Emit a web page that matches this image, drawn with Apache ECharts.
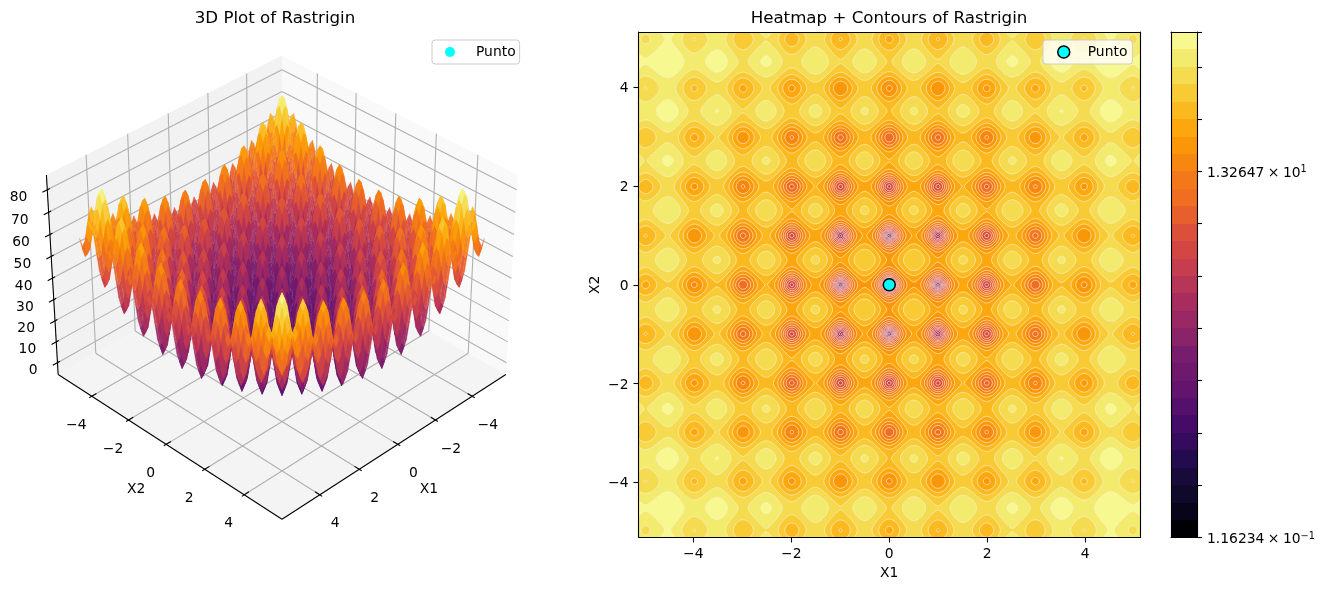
<!DOCTYPE html>
<html><head><meta charset="utf-8">
<style>html,body{margin:0;padding:0;background:#fff}#c{width:1323px;height:590px}</style>
<script src="https://cdn.jsdelivr.net/npm/echarts@6/dist/echarts.min.js"></script>
</head><body><div id="c"></div>
<script>
// Height of the surface along one axis, read at x = 0, 1/32, 2/32 ... 5.125 (the picture is mirror-symmetric about 0
// and each cell is the sum of its row and column profile).
const profileHalf = [
0,0.19,0.77,1.69,2.94,4.47,6.21,8.10,10.06,12.03,13.92,15.67,17.21,18.48,19.43,20.03,
20.25,20.09,19.56,18.67,17.46,15.99,14.30,12.47,10.56,8.66,6.83,5.16,3.69,2.51,1.64,1.13,
1,1.26,1.89,2.88,4.19,5.78,7.58,9.53,11.56,13.59,15.55,17.36,18.96,20.29,21.31,21.97,
22.25,22.15,21.68,20.86,19.71,18.30,16.68,14.91,13.06,11.22,9.46,7.84,6.44,5.32,4.52,4.07,
4,4.32,5.02,6.07,7.44,9.09,10.96,12.97,15.06,17.16,19.18,21.05,22.71,24.11,25.18,25.90,
26.25,26.22,25.81,25.04,23.96,22.61,21.05,19.34,17.56,15.78,14.08,12.53,11.20,10.13,9.39,9.01,
9,9.38,10.14,11.26,12.70,14.41,16.33,18.41,20.56,22.72,24.80,26.74,28.46,29.92,31.06,31.84,
32.25,32.28,31.93,31.23,30.21,28.92,27.42,25.78,24.06,22.35,20.71,19.22,17.95,16.94,16.27,15.94,
16,16.44,17.27,18.44,19.94,21.72,23.71,25.85,28.06,30.28,32.42,34.42,36.21,37.73,38.93,39.78,
40.25,40.34,40.06,39.42,38.46,37.24,35.80,34.22,32.56,30.91,29.33,27.91,26.70,25.76,25.14,24.88,
25,25.51,26.39,27.63,29.20];
const profileStep = 1/32;
const axisTicks = [-4,-2,0,2,4];
const zTicks = [0,10,20,30,40,50,60,70,80];
const colorMin = 0.116234, colorTickValue = 13.2647, colorMax = 80.66;
const bandCount = 29;
const colorbarTickEvery = 3;
const puntoPoint = [0,0];
const puntoHeight = 0;
const surfaceStride = 4;

const profile = profileHalf.slice(1).reverse().concat(profileHalf);
const N = profile.length;
const gridX = profile.map((_,i)=>(i-(N-1)/2)*profileStep);

const inferno=[[0,0,4],[11,7,36],[22,11,57],[40,11,84],[66,10,104],[87,16,110],[106,23,110],[120,28,109],[147,38,103],[165,44,96],[188,55,84],[207,68,70],[221,81,58],[237,105,37],[243,120,25],[249,142,9],[252,165,10],[249,190,36],[246,215,70],[241,237,113],[252,255,164]];
function cmap(t){t=Math.max(0,Math.min(1,t))*20;const i=Math.min(19,Math.floor(t)),f=t-i;return inferno[i].map((c,k)=>c+(inferno[i+1][k]-c)*f);}
const rgb=c=>'rgb('+c.map(v=>Math.round(v)).join(',')+')';
const lmin=Math.log10(colorMin),lmax=Math.log10(colorMax),dl=(lmax-lmin)/bandCount;
const levels=[];for(let k=0;k<=bandCount;k++)levels.push(Math.pow(10,lmin+dl*k));
const bandColor=k=>rgb(cmap(k/(bandCount-1)*0.98));
const bandOf=z=>{if(z<=levels[0])return 0;const b=Math.floor((Math.log10(z)-lmin)/dl);return Math.min(bandCount-1,Math.max(0,b));};

/* ---------- 3D projection (matplotlib-style, elev 35 azim 45) ---------- */
const elev=35*Math.PI/180,azim=45*Math.PI/180;
const lim={x:5.867,zmin:-5.76,zmax:86.55};
const box=[1.1905,1.1905,0.8929],DIST=10;
const se=Math.sin(elev),ce=Math.cos(elev),sa=Math.sin(azim),ca=Math.cos(azim);
const U=[-sa,ca,0],W=[ce*ca,ce*sa,se],V=[-se*ca,-se*sa,ce];
function project(x,y,z){
  const d=[x/(2*lim.x)*box[0],y/(2*lim.x)*box[1],((z-lim.zmin)/(lim.zmax-lim.zmin)-0.5)*box[2]];
  const dot=(a)=>a[0]*d[0]+a[1]*d[1]+a[2]*d[2];
  const w=DIST-dot(W);
  return [dot(U)/w,dot(V)/w,dot(W)];
}
const SCALE=2727,CX=282,CY=277.3;
const g3={left:2,top:24,width:560,height:544};

/* ---------- filled contours and contour lines, built from the grid ---------- */
let contourCache=null;
function buildContours(api){
  const px=gridX.map(x=>api.coord([x,0])[0]);
  const py=gridX.map(y=>api.coord([0,y])[1]);
  const R=v=>Math.round(v*100)/100;
  const fills=levels.slice(0,-1).map(()=>[]),lines=levels.map(()=>[]);
  function clip(poly,L,keepAbove){
    const out=[];
    for(let i=0;i<poly.length;i++){
      const a=poly[i],b=poly[(i+1)%poly.length];
      const ia=keepAbove?a[2]>=L:a[2]<=L,ib=keepAbove?b[2]>=L:b[2]<=L;
      if(ia)out.push(a);
      if(ia!==ib){const t=(L-a[2])/(b[2]-a[2]);out.push([a[0]+(b[0]-a[0])*t,a[1]+(b[1]-a[1])*t,L]);}
    }
    return out;
  }
  function tri(a,b,c){
    const zs=[a[2],b[2],c[2]],lo=bandOf(Math.min(...zs)),hi=bandOf(Math.max(...zs));
    for(let k=lo;k<=hi;k++){
      let p=[a,b,c];
      if(k>0)p=clip(p,levels[k],true);
      if(p.length&&k<bandCount-1)p=clip(p,levels[k+1],false);
      if(p.length>2)fills[k].push('M'+p.map(q=>R(q[0])+' '+R(q[1])).join('L')+'Z');
    }
    for(let k=lo;k<=hi+1&&k<=bandCount;k++){
      const L=levels[k],pts=[],vs=[a,b,c];
      for(let i=0;i<3;i++){const s=vs[i],e=vs[(i+1)%3];
        if((s[2]<L)!==(e[2]<L)){const t=(L-s[2])/(e[2]-s[2]);pts.push([s[0]+(e[0]-s[0])*t,s[1]+(e[1]-s[1])*t]);}}
      if(pts.length===2)lines[k].push('M'+R(pts[0][0])+' '+R(pts[0][1])+'L'+R(pts[1][0])+' '+R(pts[1][1]));
    }
  }
  for(let j=0;j<N-1;j++){
    let run=-1,runStart=0;
    const flush=i=>{if(run>=0){const x0=R(px[runStart]),x1=R(px[i]),y0=R(py[j]),y1=R(py[j+1]);
      fills[run].push('M'+x0+' '+y0+'L'+x1+' '+y0+'L'+x1+' '+y1+'L'+x0+' '+y1+'Z');}run=-1;};
    for(let i=0;i<N-1;i++){
      const a=profile[i]+profile[j],b=profile[i+1]+profile[j],c=profile[i+1]+profile[j+1],d=profile[i]+profile[j+1];
      const ba=bandOf(a);
      if(ba===bandOf(b)&&ba===bandOf(c)&&ba===bandOf(d)){
        if(run!==ba){flush(i);run=ba;runStart=i;}
      }else{
        flush(i);
        const A=[px[i],py[j],a],B=[px[i+1],py[j],b],C=[px[i+1],py[j+1],c],D=[px[i],py[j+1],d];
        tri(A,B,C);tri(A,C,D);
      }
    }
    flush(N-1);
  }
  return {fills:fills.map(f=>f.join('')),lines:lines.map(f=>f.join(''))};
}

/* ---------- surface quads, far to near ---------- */
const quads=[];
const zAt=(i,j)=>profile[i]+profile[j];
for(let i=0;i+surfaceStride<N;i+=surfaceStride)for(let j=0;j+surfaceStride<N;j+=surfaceStride){
  const s=surfaceStride,zm=(zAt(i,j)+zAt(i+s,j)+zAt(i+s,j+s)+zAt(i,j+s))/4;
  quads.push([i,j,project((gridX[i]+gridX[i+s])/2,(gridX[j]+gridX[j+s])/2,zm)[2]]);
}
quads.sort((a,b)=>a[2]-b[2]);

const FONT='DejaVu Sans';
const TICK='13.89px "'+FONT+'"';
function renderSurface(params,api){
  const i=api.value(0),j=api.value(1),s=surfaceStride;
  const idx=[[i,j],[i+s,j],[i+s,j+s],[i,j+s]];
  let zm=0;
  const pts=idx.map(q=>{const z=zAt(q[0],q[1]);zm+=z;const p=project(gridX[q[0]],gridX[q[1]],z);return api.coord([p[0],p[1]]);});
  zm/=4;
  const t=(zm-colorMin)/(colorMax-colorMin),c=rgb(cmap(t));
  return {type:'polygon',shape:{points:pts},style:{fill:c,stroke:c,lineWidth:0.25,opacity:0.95},silent:true};
}
function renderBox(params,api){
  const m=lim.x,zl=lim.zmin,zh=lim.zmax;
  const P=(x,y,z)=>{const p=project(x,y,z);return api.coord([p[0],p[1]]);};
  const kids=[];
  const poly=(a,fill)=>kids.push({type:'polygon',shape:{points:a},style:{fill:fill}});
  const line=(a,b,col)=>kids.push({type:'line',shape:{x1:a[0],y1:a[1],x2:b[0],y2:b[1]},style:{stroke:col,lineWidth:1.1}});
  const text=(t,p,dx,dy,align,font)=>kids.push({type:'text',style:{text:t,x:p[0]+dx,y:p[1]+dy,align:align,verticalAlign:'middle',textAlign:align,textVerticalAlign:'middle',font:font||TICK,fill:'#000'}});
  poly([P(m,-m,zl),P(-m,-m,zl),P(-m,-m,zh),P(m,-m,zh)],'#f2f2f2');
  poly([P(-m,m,zl),P(-m,-m,zl),P(-m,-m,zh),P(-m,m,zh)],'#f9f9f9');
  poly([P(m,m,zl),P(m,-m,zl),P(-m,-m,zl),P(-m,m,zl)],'#f4f4f4');
  const gc='#b0b0b0';
  axisTicks.forEach(v=>{
    line(P(v,-m,zl),P(v,m,zl),gc);
    line(P(-m,v,zl),P(m,v,zl),gc);
    line(P(v,-m,zl),P(v,-m,zh),gc);
    line(P(-m,v,zl),P(-m,v,zh),gc);
  });
  zTicks.forEach(v=>{
    line(P(m,-m,v),P(-m,-m,v),gc);
    line(P(-m,-m,v),P(-m,m,v),gc);
  });
  const k='#000';
  line(P(m,m,zl),P(-m,m,zl),k);
  line(P(m,m,zl),P(m,-m,zl),k);
  line(P(m,-m,zl),P(m,-m,zh),k);
  const lab=v=>String(v).replace('-','\u2212');
  axisTicks.forEach(v=>{
    line(P(v,m-0.23,zl),P(v,m+0.12,zl),k);
    text(lab(v),P(v,m,zl),15.5,29,'center');
    line(P(m-0.23,v,zl),P(m+0.12,v,zl),k);
    text(lab(v),P(m,v,zl),-15.5,29,'center');
  });
  zTicks.forEach(v=>{
    line(P(m-0.12,-m,v),P(m+0.23,-m,v),k);
    text(String(v),P(m,-m,v),-20,8,'right');
  });
  text('X1',P(0,m,zl),31,45,'center');
  text('X2',P(m,0,zl),-30,45,'center');
  return {type:'group',children:kids,silent:true};
}

const heat={left:638.5,top:32,width:501.5,height:505.5,show:true,backgroundColor:'#fca50a',borderWidth:0};
const cb={left:1171,top:32,width:26,height:505.5};
const lim2=5.12;
const minus=v=>String(v).replace('-','\u2212');
const baseText={color:'#000',fontFamily:FONT,fontSize:13.89};
const lineStyle={color:'#000',width:1.1};
function frameAxis(grid,pos,min,max){
  return {type:'value',gridIndex:grid,position:pos,min:min,max:max,z:6,axisLine:{show:true,onZero:false,lineStyle},axisTick:{show:false},axisLabel:{show:false},splitLine:{show:false}};
}
function valueAxis(name,pos,gap,labelPad){
  return {type:'value',gridIndex:1,position:pos,min:-lim2,max:lim2,z:6,name:name,nameLocation:'middle',nameGap:gap,
    nameTextStyle:baseText,axisLine:{show:true,onZero:false,lineStyle},
    axisTick:{show:true,length:5,lineStyle,customValues:axisTicks},
    axisLabel:Object.assign({show:true,margin:10,padding:labelPad,formatter:v=>'{a|'+minus(v)+'}',customValues:axisTicks,rich:{a:baseText}},baseText),splitLine:{show:false}};
}
const sx=SCALE;
const option={
  animation:false,backgroundColor:'#fff',
  title:[
    {text:'3D Plot of Rastrigin',left:270,top:5,textAlign:'center',textStyle:{color:'#000',fontFamily:FONT,fontSize:16.67,fontWeight:'normal'}},
    {text:'Heatmap + Contours of Rastrigin',left:884,top:5,textAlign:'center',textStyle:{color:'#000',fontFamily:FONT,fontSize:16.67,fontWeight:'normal'}}
  ],
  legend:[
    {left:432,top:40,padding:[5,4,5,13],itemWidth:10,itemHeight:10,selectedMode:false,backgroundColor:'rgba(255,255,255,0.8)',borderColor:'#ccc',borderWidth:1,borderRadius:3,z:20,
     textStyle:Object.assign({},baseText,{padding:[0,0,0,16]}),data:[{name:'Punto',icon:'circle',itemStyle:{color:'#00ffff',borderWidth:0,opacity:1}}]},
    {left:1043,top:40,padding:[5,5,5,14],itemWidth:12,itemHeight:12,selectedMode:false,backgroundColor:'rgba(255,255,255,0.8)',borderColor:'#ccc',borderWidth:1,borderRadius:3,z:20,
     textStyle:Object.assign({},baseText,{padding:[0,0,0,13]}),data:[{name:'Punto',icon:'circle',itemStyle:{color:'#00ffff',borderColor:'#000',borderWidth:1.5,opacity:1}}]}
  ],
  grid:[g3,heat,cb],
  xAxis:[
    {type:'value',gridIndex:0,show:false,min:(g3.left-CX)/sx,max:(g3.left+g3.width-CX)/sx},
    valueAxis('X1','bottom',27,[0,0,0,0]),
    frameAxis(1,'top',-lim2,lim2),
    frameAxis(2,'bottom',0,1),
    frameAxis(2,'top',0,1)
  ],
  yAxis:[
    {type:'value',gridIndex:0,show:false,min:(CY-g3.top-g3.height)/sx,max:(CY-g3.top)/sx},
    valueAxis('X2','left',36,[3,0,0,0]),
    frameAxis(1,'right',-lim2,lim2),
    {type:'value',gridIndex:2,position:'right',min:0,max:bandCount,interval:colorbarTickEvery,z:6,
      axisLine:{show:true,onZero:false,lineStyle},axisTick:{show:true,length:5,lineStyle},splitLine:{show:false},
      axisLabel:{show:true,margin:10,padding:[4,0,0,0],color:'#000',fontFamily:FONT,fontSize:13.89,
        formatter:v=>v===0?'{b|1.16234\u2005\u00d7\u200510}{s|\u22121}':(v===21?'{b|1.32647\u2005\u00d7\u200510}{s|1}':''),
        rich:{b:{fontFamily:FONT,fontSize:13.89,color:'#000'},s:{fontFamily:FONT,fontSize:9.7,color:'#000',padding:[0,0,7,0]}}}},
    frameAxis(2,'left',0,bandCount)
  ],
  series:[
    {type:'custom',name:'frame3d',xAxisIndex:0,yAxisIndex:0,z:1,silent:true,data:[[0,0]],renderItem:renderBox},
    {type:'scatter',name:'Punto',xAxisIndex:0,yAxisIndex:0,z:1,symbolSize:10,itemStyle:{color:'#00ffff',opacity:1},
      data:[project(puntoPoint[0],puntoPoint[1],puntoHeight).slice(0,2)]},
    {type:'custom',name:'surface',xAxisIndex:0,yAxisIndex:0,z:2,silent:true,progressive:0,data:quads,renderItem:renderSurface},
    {type:'custom',name:'bands',xAxisIndex:1,yAxisIndex:1,z:2,silent:true,clip:true,progressive:0,
      data:levels.slice(0,-1).map((_,k)=>[k]),
      renderItem(params,api){
        if(!contourCache)contourCache=buildContours(api);
        const k=api.value(0),c=bandColor(k);
        return {type:'path',shape:{pathData:contourCache.fills[k]||'M0 0'},style:{fill:c},silent:true};
      }},
    {type:'custom',name:'contours',xAxisIndex:1,yAxisIndex:1,z:3,silent:true,clip:true,progressive:0,
      data:levels.map((_,k)=>[k]),
      renderItem(params,api){
        if(!contourCache)contourCache=buildContours(api);
        return {type:'path',shape:{pathData:contourCache.lines[api.value(0)]||'M0 0'},style:{fill:null,stroke:'rgba(255,255,255,0.62)',lineWidth:0.9},silent:true};
      }},
    {type:'scatter',name:'Punto',xAxisIndex:1,yAxisIndex:1,z:5,symbolSize:12,itemStyle:{color:'#00ffff',borderColor:'#000',borderWidth:1.5,opacity:1},data:[puntoPoint]},
    {type:'custom',name:'colorbar',xAxisIndex:3,yAxisIndex:3,z:2,silent:true,
      data:levels.slice(0,-1).map((_,k)=>[k]),
      renderItem(params,api){
        const k=api.value(0),a=api.coord([0,k+1]),b=api.coord([1,k]);
        const y0=Math.round(a[1]),y1=Math.round(b[1]);
        return {type:'rect',shape:{x:a[0],y:y0,width:b[0]-a[0],height:y1-y0},style:{fill:bandColor(k)},silent:true};
      }}
  ]
};
const chart=echarts.init(document.getElementById('c'),null,{renderer:'canvas'});
chart.setOption(option);
</script></body></html>
